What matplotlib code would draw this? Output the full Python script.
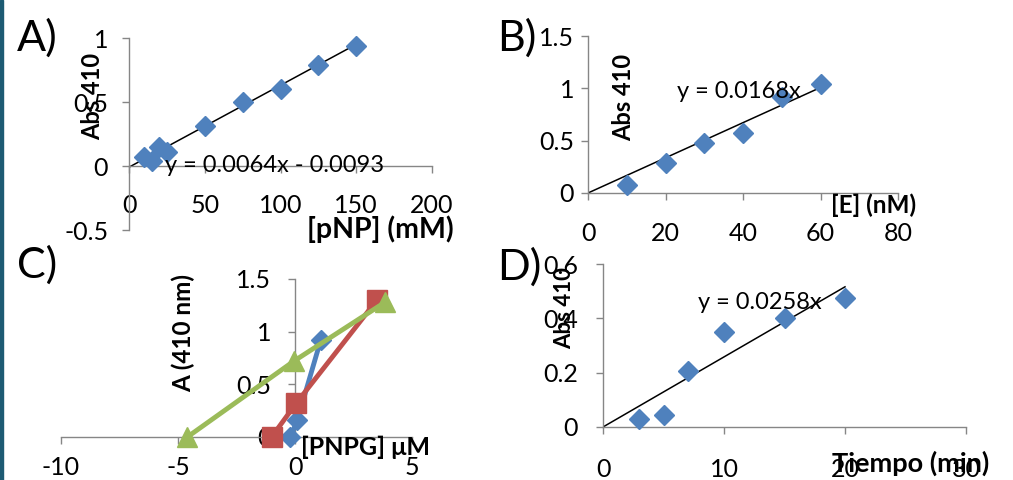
import matplotlib
matplotlib.use("Agg")
import matplotlib.pyplot as plt
import numpy as np

W, H = 1013, 480

# ---------------------------------------------------------------------------
# Data
# ---------------------------------------------------------------------------
a_x = [10, 15, 20, 25, 50, 75, 100, 125, 150]
a_y = [0.07, 0.04, 0.15, 0.11, 0.31, 0.50, 0.60, 0.79, 0.94]
a_slope, a_icpt = 0.0064, -0.0093

b_x = [10, 20, 30, 40, 50, 60]
b_y = [0.08, 0.29, 0.48, 0.57, 0.92, 1.04]
b_slope = 0.0168

c_blue_x = [-0.2, 0.1, 1.1]
c_blue_y = [0.0, 0.16, 0.92]
c_red_x = [-1.0, 0.05, 3.5]
c_red_y = [0.0, 0.32, 1.30]
c_green_x = [-4.6, -0.05, 3.85]
c_green_y = [0.0, 0.72, 1.28]

d_x = [3, 5, 7, 10, 15, 20]
d_y = [0.031, 0.045, 0.206, 0.35, 0.40, 0.476]
d_slope = 0.0258

BLUE = "#4F81BD"
RED = "#C0504D"
GREEN = "#9BBB59"
AXIS = "#868686"
FONT = "Lato"

plt.rcParams["font.family"] = [FONT, "DejaVu Sans"]
plt.rcParams["axes.unicode_minus"] = False

fig = plt.figure(figsize=(W / 100, H / 100), dpi=100)
fig.patch.set_facecolor("white")


def px_axes(x0, x1, ytop, ybot):
    return fig.add_axes([x0 / W, 1 - ybot / H, (x1 - x0) / W, (ybot - ytop) / H])


def style(ax, xpad, ypad):
    ax.patch.set_alpha(0)
    for s in ("top", "right"):
        ax.spines[s].set_visible(False)
    for s in ("left", "bottom"):
        ax.spines[s].set_color(AXIS)
        ax.spines[s].set_linewidth(1.0)
    ax.spines["bottom"].set_position(("data", 0))
    ax.tick_params(axis="both", direction="out", length=5, width=1.0,
                   color=AXIS, labelsize=18, labelcolor="black")
    ax.tick_params(axis="x", pad=xpad)
    ax.tick_params(axis="y", pad=ypad)


def ftext(x, y, s, **kw):
    fig.text(x / W, 1 - y / H, s, **kw)


# ---------------------------------------------------------------------------
# Panel A
# ---------------------------------------------------------------------------
axA = px_axes(129, 432, 38, 230)
axA.set_xlim(0, 200)
axA.set_ylim(-0.5, 1)
style(axA, 15, 10)
axA.set_xticks([0, 50, 100, 150, 200])
axA.set_yticks([-0.5, 0, 0.5, 1])
axA.set_yticklabels(["-0.5", "0", "0.5", "1"])
xl = np.array([0, 150])
axA.plot(xl, a_slope * xl + a_icpt, color="black", lw=1.1, zorder=2)
axA.plot(a_x, a_y, "D", color=BLUE, ms=10, mec=BLUE, zorder=3, clip_on=False)
axA.text(23.8, 0.0, "y = 0.0064x - 0.0093", fontsize=17, ha="left", va="center")

# ---------------------------------------------------------------------------
# Panel B
# ---------------------------------------------------------------------------
axB = px_axes(588, 898, 36, 193)
axB.set_xlim(0, 80)
axB.set_ylim(0, 1.5)
style(axB, 16, 5)
axB.set_xticks([0, 20, 40, 60, 80])
axB.set_yticks([0, 0.5, 1, 1.5])
axB.set_yticklabels(["0", "0.5", "1", "1.5"])
xl = np.array([0, 60])
axB.plot(xl, b_slope * xl, color="black", lw=1.1, zorder=2)
axB.plot(b_x, b_y, "D", color=BLUE, ms=10, mec=BLUE, zorder=3, clip_on=False)
axB.text(23, 0.97, "y = 0.0168x", fontsize=17, ha="left", va="center")

# ---------------------------------------------------------------------------
# Panel C
# ---------------------------------------------------------------------------
axC = px_axes(61, 412, 279, 437)
axC.set_xlim(-10, 5)
axC.set_ylim(0, 1.5)
style(axC, 9, 12)
axC.spines["left"].set_position(("data", 0))
axC.set_xticks([-10, -5, 0, 5])
axC.set_yticks([0, 0.5, 1, 1.5])
axC.set_yticklabels(["0", "0.5", "1", "1.5"])
axC.plot(c_blue_x, c_blue_y, "-D", color=BLUE, lw=3.5, ms=10, zorder=3, clip_on=False)
axC.plot(c_red_x, c_red_y, "-s", color=RED, lw=3.5, ms=14, zorder=4, clip_on=False)
axC.plot(c_green_x, c_green_y, "-^", color=GREEN, lw=3.5, ms=14, zorder=5, clip_on=False)

# ---------------------------------------------------------------------------
# Panel D
# ---------------------------------------------------------------------------
axD = px_axes(603, 966, 264, 427)
axD.set_xlim(0, 30)
axD.set_ylim(0, 0.6)
style(axD, 17, 13)
axD.set_xticks([0, 10, 20, 30])
axD.set_yticks([0, 0.2, 0.4, 0.6])
axD.set_yticklabels(["0", "0.2", "0.4", "0.6"])
xl = np.array([0, 20])
axD.plot(xl, d_slope * xl, color="black", lw=1.1, zorder=2)
axD.plot(d_x, d_y, "D", color=BLUE, ms=10, mec=BLUE, zorder=3, clip_on=False)
axD.text(7.86, 0.457, "y = 0.0258x", fontsize=17, ha="left", va="center")

# ---------------------------------------------------------------------------
# Axis titles and panel letters (figure pixel positions)
# ---------------------------------------------------------------------------
bold = dict(fontweight="bold", ha="center", va="center")
ftext(93, 96, "Abs 410", rotation=90, fontsize=17, **bold)
ftext(380, 229, "[pNP] (mM)", fontsize=20.5, **bold)
ftext(624, 97, "Abs 410", rotation=90, fontsize=17, **bold)
ftext(874, 205, "[E] (nM)", fontsize=17.5, **bold)
ftext(183, 333, "A (410 nm)", rotation=90, fontsize=17.5, **bold)
ftext(365, 447, "[PNPG] \u03bcM", fontsize=18, **bold)
ftext(565, 308, "Abs 410", rotation=90, fontsize=16, **bold)
ftext(911, 463, "Tiempo (min)", fontsize=19.5, **bold)

letter = dict(fontsize=31, ha="left", va="center")
ftext(17, 38, "A)", **letter)
ftext(497, 38, "B)", **letter)
ftext(17, 265, "C)", **letter)
ftext(497, 267, "D)", **letter)

# thin slide border on the left edge
fig.patches.append(plt.Rectangle((0, 0), 2.5 / W, 1, transform=fig.transFigure,
                                 color="#1D5B73", zorder=10))

fig.savefig("out.png", dpi=100, facecolor="white")
